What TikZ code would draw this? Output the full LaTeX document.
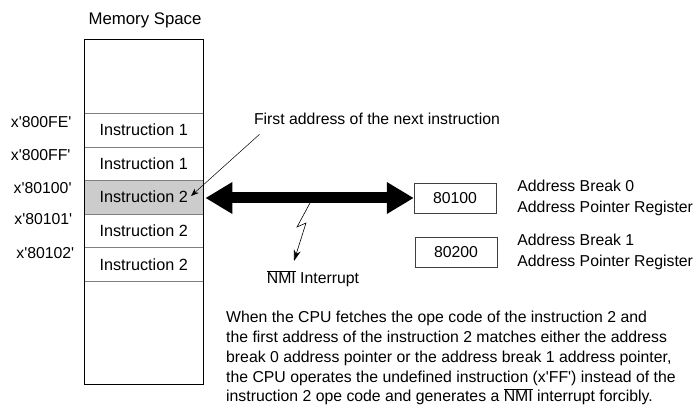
\documentclass[tikz,border=0pt]{standalone}
\usepackage{fontspec}
\setmainfont{Liberation Sans}
\usetikzlibrary{arrows.meta,positioning}

\newcommand{\ovl}[1]{$\overline{\mbox{#1}}$}
\newcommand{\qt}{\textquotesingle}

\begin{document}
\begin{tikzpicture}[
    x=1pt, y=-1pt,
    every node/.style={font=\fontsize{15.8}{19.8}\selectfont},
    memrow/.style={
        rectangle, draw=gray, minimum width=119pt,
        minimum height=33.6pt, inner sep=0pt, anchor=north west,
        font=\fontsize{16.2}{19.8}\selectfont
    },
    regbox/.style={
        rectangle, draw=black!75, minimum width=82pt,
        minimum height=30pt, inner sep=0pt
    },
    reglabel/.style={align=left, inner sep=0pt, anchor=west,
        font=\fontsize{15.8}{21.3}\selectfont},
    bus/.style={line width=11pt,
        {Triangle[length=27pt,width=30pt]}-{Triangle[length=27pt,width=30pt]}}
]
\useasboundingbox (0,0) rectangle (697,409);

% --- memory column: 5 rows starting at y=113
\def\rowh{33.6}
\foreach \r/\lab in {1/{Instruction 1}, 2/{Instruction 1},
    3/{Instruction 2}, 4/{Instruction 2}, 5/{Instruction 2}} {
  \pgfmathsetmacro{\top}{113+(\r-1)*\rowh}
  \ifnum\r=3
    \node[memrow, fill=gray!40] (row\r) at (84,\top) {\lab};
  \else
    \node[memrow] (row\r) at (84,\top) {\lab};
  \fi
}
\node[draw, minimum width=119pt, minimum height=345pt, inner sep=0pt,
      anchor=north west] (mem) at (84,39) {};
\node[font=\fontsize{16.8}{19.8}\selectfont] (memtitle) at (145,20) {Memory Space};

% Address labels
\foreach \i/\x/\y/\lab in {1/41.2/122/800FE, 2/40.7/155/800FF,
    3/42.6/188/80100, 4/43.3/219/80101, 5/45.3/253/80102}
  \node (addr\i) at (\x,\y) {x\qt\lab\qt};

% Pointer to the first address
\node (callout) at (377,119) {First address of the next instruction};
\coordinate (ftip) at (191,196);
\draw[-{Stealth[length=8pt,width=6pt]}, line width=0.5pt]
    ([xshift=9pt,yshift=-6pt]callout.south west) -- (ftip);

% Address break registers
\node[regbox] (reg0) at (455,198) {80100};
\node[regbox] (reg1) at (456,252) {80200};
\node[reglabel, right=21pt of reg0] (lab0) {Address Break 0\\Address Pointer Register};
\node[reglabel, right=20pt of reg1] (lab1) {Address Break 1\\Address Pointer Register};

% Compare bus
\draw[bus, shorten <=2pt] (row3.east |- reg0.west) -- (reg0.west);

% NMI interrupt
\node (nmi) at (313,279) {\ovl{NMI} Interrupt};
\coordinate (zap) at (310,203);
\coordinate (nmitip) at (294,261);
\draw[-{Stealth[length=11pt,width=7pt]}, line width=0.6pt]
    (zap) -- ++(-13,24) -- ++(9,-4) -- (nmitip);

% Explanation
\node[align=left, inner sep=0pt, anchor=north west] (note) at (226,311) {%
When the CPU fetches the ope code of the instruction 2 and\\
the first address of the instruction 2 matches either the address\\
break 0 address pointer or the address break 1 address pointer,\\
the CPU operates the undefined instruction (x\qt FF\qt) instead of the\\
instruction 2 ope code and generates a \ovl{NMI} interrupt forcibly.};
\end{tikzpicture}
\end{document}
